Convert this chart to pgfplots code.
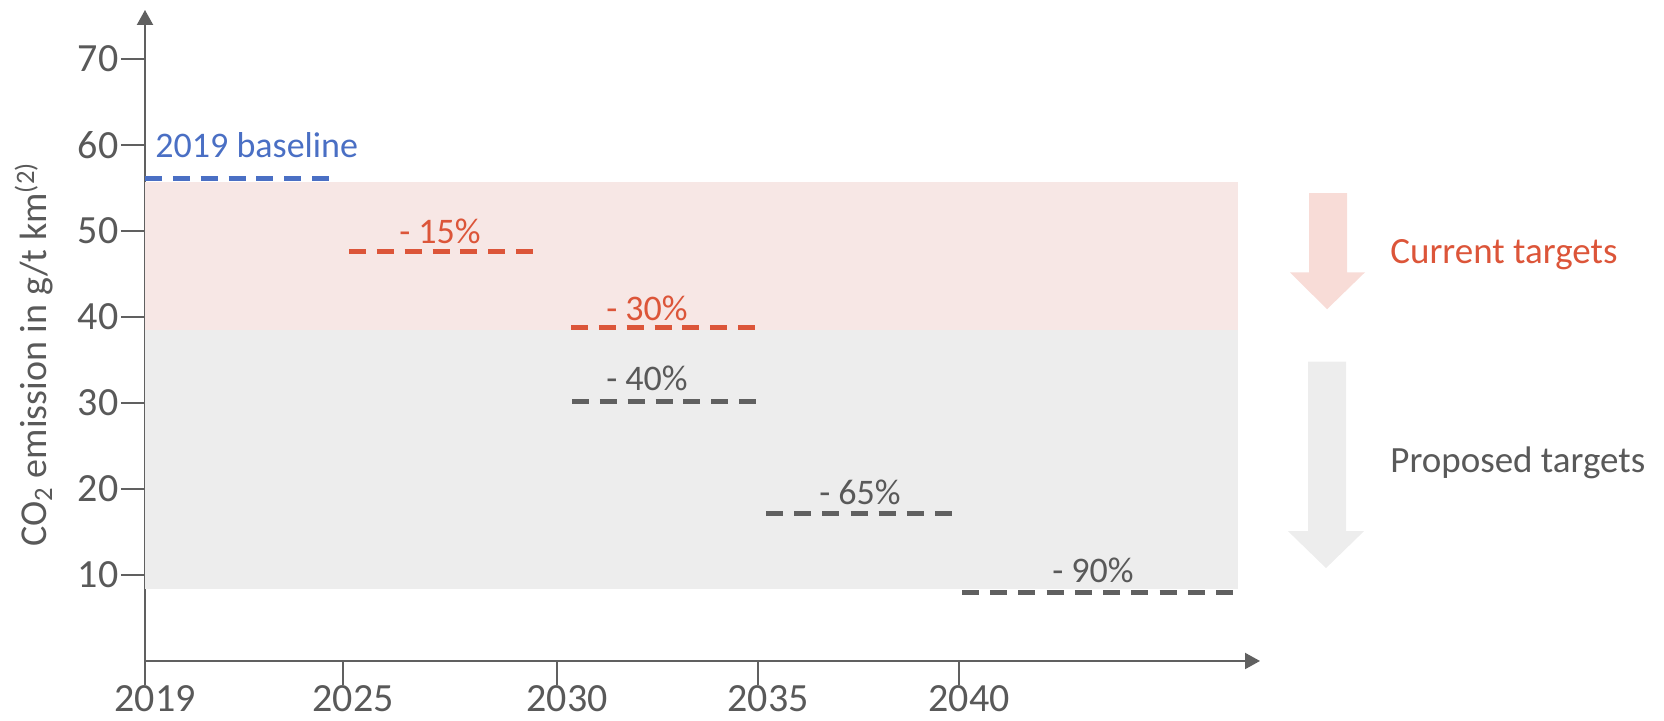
\documentclass[border=0pt]{standalone}
\usepackage{fontspec}
\setmainfont{Carlito}
\usepackage{pgfplots}
\pgfplotsset{compat=1.18}
\usetikzlibrary{arrows.meta}
\definecolor{textgray}{HTML}{595959}
\definecolor{axisgray}{HTML}{606060}
\definecolor{bandpink}{HTML}{F7E7E5}
\definecolor{bandgray}{HTML}{EDEDED}
\definecolor{arrowpink}{HTML}{F8DCD7}
\definecolor{arrowgray}{HTML}{EDEDED}
\definecolor{tred}{HTML}{DC5539}
\definecolor{tblue}{HTML}{4A6FC4}
\definecolor{dashgray}{HTML}{606060}
\begin{document}
\begin{tikzpicture}
\begin{axis}[
 scale only axis, width=557.5pt, height=325.5pt,
 xmin=0, xmax=5.575, ymin=0, ymax=75.7,
 axis lines=left,
 axis line style={draw=axisgray, line width=1pt, -{Triangle[length=7.5pt,width=8pt]}},
 xtick={0,0.99,2.06,3.065,4.07}, xticklabels={2019,2025,2030,2035,2040},
 ytick={10,20,...,70},
 tick align=outside, major tick length=12pt,
 tick style={draw=axisgray, line width=1pt},
 ticklabel style={font=\fontsize{20}{24}\selectfont, text=textgray},
 xticklabel style={xshift=5pt, inner sep=0pt, yshift=0pt},
 yticklabel style={xshift=2.2pt},
 /pgf/number format/assume math mode=true,
 clip=false,
 ylabel={CO\textsubscript{2} emission in g/t km\textsuperscript{(2)}},
 ylabel style={at={(axis description cs:-0.0996,0.471)}, anchor=center, font=\fontsize{19}{22}\selectfont, text=textgray},
]
% bands
\addplot[fill=bandpink, draw=none] coordinates {(0,38.5) (5.465,38.5) (5.465,55.7) (0,55.7)} -- cycle;
\addplot[fill=bandgray, draw=none] coordinates {(0,8.4) (5.465,8.4) (5.465,38.5) (0,38.5)} -- cycle;
% arrows
\addplot[fill=arrowpink, draw=none] coordinates {(5.82,54.4) (6.01,54.4) (6.01,45.2) (6.1,45.2) (5.91,40.9) (5.725,45.2) (5.82,45.2)} -- cycle;
\addplot[fill=arrowgray, draw=none] coordinates {(5.815,34.8) (6.005,34.8) (6.005,15.1) (6.095,15.1) (5.905,10.8) (5.715,15.1) (5.815,15.1)} -- cycle;
% target lines
\addplot[tblue, line width=2.5pt, dash pattern=on 8.5pt off 5.417pt] coordinates {(0,56.1) (0.92,56.1)};
\addplot[tred, line width=2.5pt, dash pattern=on 8.5pt off 5.417pt] coordinates {(1.02,47.6) (1.94,47.6)};
\addplot[tred, line width=2.5pt, dash pattern=on 8.5pt off 5.417pt] coordinates {(2.13,38.8) (3.05,38.8)};
\addplot[dashgray, line width=2.5pt, dash pattern=on 8.5pt off 5.417pt] coordinates {(2.135,30.2) (3.055,30.2)};
\addplot[dashgray, line width=2.5pt, dash pattern=on 8.5pt off 5.583pt] coordinates {(3.105,17.1) (4.035,17.1)};
\addplot[dashgray, line width=2.5pt, dash pattern=on 8.5pt off 5.611pt] coordinates {(4.085,8.0) (5.44,8.0)};
% labels
\node[anchor=west, text=tblue, font=\fontsize{18}{20}\selectfont, inner sep=0pt] at (axis cs:0.05,60.0) {2019 baseline};
\node[text=tred, font=\fontsize{18}{20}\selectfont, inner sep=0pt] at (axis cs:1.475,50.0) {- 15\%};
\node[text=tred, font=\fontsize{18}{20}\selectfont, inner sep=0pt] at (axis cs:2.51,41.0) {- 30\%};
\node[text=textgray, font=\fontsize{18}{20}\selectfont, inner sep=0pt] at (axis cs:2.51,32.9) {- 40\%};
\node[text=textgray, font=\fontsize{18}{20}\selectfont, inner sep=0pt] at (axis cs:3.575,19.65) {- 65\%};
\node[text=textgray, font=\fontsize{18}{20}\selectfont, inner sep=0pt] at (axis cs:4.74,10.5) {- 90\%};
\node[anchor=west, text=tred, font=\fontsize{18.5}{20}\selectfont, inner sep=0pt] at (axis cs:6.225,47.2) {Current targets};
\node[anchor=west, text=textgray, font=\fontsize{18.5}{20}\selectfont, inner sep=0pt] at (axis cs:6.225,23.1) {Proposed targets};
\end{axis}
\pgfresetboundingbox
\useasboundingbox (-72.5pt,-30pt) rectangle (759.5pt,330.5pt);
\end{tikzpicture}
\end{document}
